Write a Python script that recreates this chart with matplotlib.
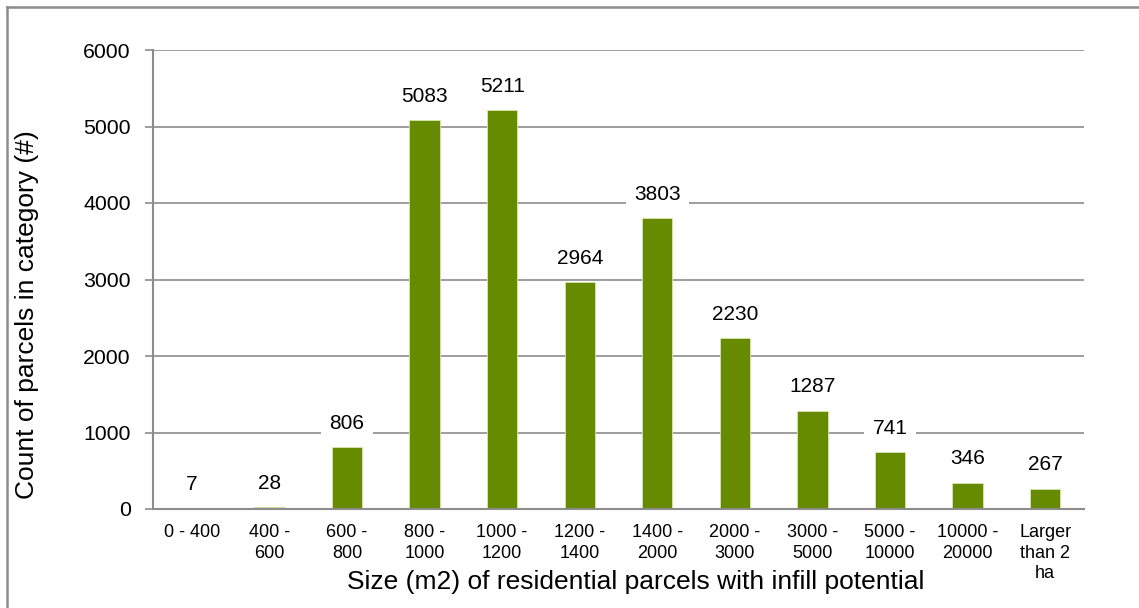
import matplotlib
matplotlib.use("Agg")
import matplotlib.pyplot as plt
from matplotlib.lines import Line2D

categories = ["0 - 400", "400 -\n600", "600 -\n800", "800 -\n1000", "1000 -\n1200",
              "1200 -\n1400", "1400 -\n2000", "2000 -\n3000", "3000 -\n5000",
              "5000 -\n10000", "10000 -\n20000", "Larger\nthan 2\nha"]
counts = [7, 28, 806, 5083, 5211, 2964, 3803, 2230, 1287, 741, 346, 267]
yticks = [0, 1000, 2000, 3000, 4000, 5000, 6000]

plt.rcParams['font.family'] = ['Liberation Sans', 'DejaVu Sans']
W, H = 1139, 608
fig = plt.figure(figsize=(W/100, H/100), dpi=100)
ax = fig.add_axes([153/W, 1-509/H, (1084-153)/W, (509-50)/H])

x = list(range(len(categories)))
ax.bar(x, counts, width=0.39, color="#668a00", edgecolor="#d8e6b0", linewidth=0.6, zorder=3)
ax.set_xlim(-0.5, len(categories)-0.5)
ax.set_ylim(0, 6000)
ax.set_yticks(yticks)
ax.set_yticklabels([str(t) for t in yticks], fontsize=15.3)
ax.yaxis.grid(True, color="#8c8c8c", linewidth=1.2, zorder=0)
ax.set_xticks(x)
ax.set_xticklabels(categories, fontsize=13, linespacing=1.27, va="top")
ax.tick_params(axis='x', length=0, pad=11)
ax.tick_params(axis='y', length=6, color="#8c8c8c", width=1.2, pad=10)
for s in ["top", "right"]:
    ax.spines[s].set_visible(False)
for s in ["left", "bottom"]:
    ax.spines[s].set_color("#8c8c8c")
    ax.spines[s].set_linewidth(1.5)
ax.spines["bottom"].set_zorder(4)

for xi, v in zip(x, counts):
    ax.annotate(str(v), (xi, v), xytext=(0, 17), textcoords="offset points",
                ha="center", va="center", fontsize=15, zorder=5,
                bbox=dict(boxstyle="square,pad=0.4", fc="white", ec="none"))

fig.text(27/W, 1-315/H, "Count of parcels in category (#)", fontsize=19, rotation=90,
         ha="center", va="center")
fig.text(636/W, 1-582/H, "Size (m2) of residential parcels with infill potential", fontsize=19,
         ha="center", va="center")

fig.add_artist(Line2D([7/W, 7/W], [0, 1-7/H], transform=fig.transFigure, color="#8c8c8c", lw=1.8))
fig.add_artist(Line2D([7/W, 1], [1-7/H, 1-7/H], transform=fig.transFigure, color="#8c8c8c", lw=1.8))
fig.savefig("out.png", dpi=100)
